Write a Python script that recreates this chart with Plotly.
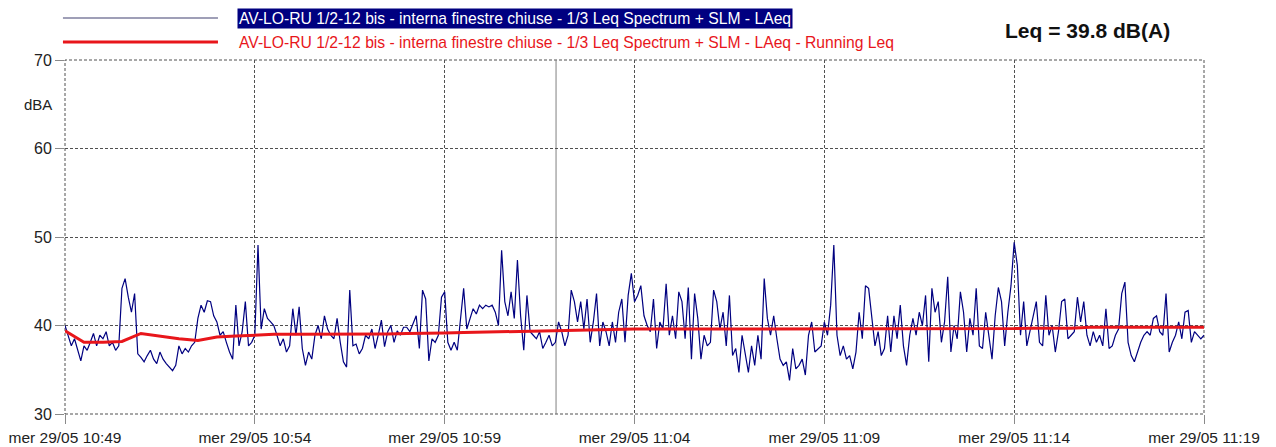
import pandas as pd
import plotly.graph_objects as go

# ---------------- data ----------------
start_time = "2024-05-29 10:49:00"
end_time = "2024-05-29 11:19:00"
cursor_time = "2024-05-29 11:01:56"
sample_step = "5s"        # LAeq sampling step
running_step = "30s"      # running Leq sampling step

# LAeq (dBA) sampled every 5 s, one row per minute
laeq = [
    40.0, 38.9, 37.7, 38.5, 37.2, 36.0, 37.7, 37.2, 38.1, 39.1, 37.7, 38.9,
    38.5, 39.3, 37.7, 38.1, 37.2, 37.7, 44.2, 45.3, 43.2, 41.5, 43.6, 36.8,
    36.4, 35.9, 36.6, 37.2, 36.2, 35.7, 37.0, 36.2, 35.7, 35.3, 34.9, 35.5,
    37.7, 36.8, 37.4, 37.0, 37.7, 38.1, 40.8, 42.3, 41.5, 42.8, 42.7, 41.1,
    40.4, 38.9, 39.3, 38.1, 37.0, 36.2, 42.3, 37.7, 39.3, 42.7, 37.7, 38.1,
    38.9, 49.1, 39.6, 41.9, 40.8, 40.4, 40.0, 38.9, 37.7, 38.5, 37.0, 37.7,
    41.9, 38.9, 42.1, 37.4, 35.5, 37.0, 36.2, 38.9, 40.0, 38.5, 41.1, 39.6,
    38.9, 38.5, 40.8, 38.1, 35.9, 35.3, 44.0, 37.7, 37.9, 36.8, 37.4, 38.9,
    38.5, 39.6, 37.4, 38.9, 40.6, 37.6, 39.3, 40.0, 38.1, 39.4, 38.9, 39.8,
    39.8, 39.3, 40.2, 41.1, 37.4, 44.0, 43.0, 36.0, 38.5, 38.1, 38.9, 43.2,
    43.8, 38.1, 37.2, 38.1, 37.2, 40.8, 44.2, 39.6, 40.8, 41.9, 41.3, 42.3,
    41.9, 42.3, 42.1, 42.3, 41.5, 40.0, 48.5, 42.7, 41.1, 43.8, 40.8, 47.4,
    41.1, 37.2, 43.4, 39.3, 38.9, 38.5, 39.3, 37.4, 38.1, 38.9, 37.7, 38.1,
    40.4, 39.3, 37.7, 38.9, 44.0, 42.7, 40.4, 42.7, 39.6, 43.0, 38.1, 40.4,
    43.6, 37.7, 40.4, 39.3, 37.7, 40.4, 38.1, 41.5, 43.0, 38.1, 43.4, 45.9,
    42.7, 43.4, 44.5, 41.1, 40.0, 39.3, 43.0, 37.4, 40.4, 39.6, 44.7, 38.9,
    41.1, 38.5, 43.8, 42.7, 38.5, 44.3, 36.2, 43.6, 40.8, 36.2, 38.9, 37.7,
    38.1, 44.0, 42.7, 39.6, 41.5, 37.7, 43.4, 36.6, 37.4, 34.7, 38.9, 37.0,
    34.7, 37.7, 35.5, 38.9, 36.2, 45.3, 40.8, 38.9, 41.1, 38.5, 36.2, 35.5,
    35.9, 33.8, 37.4, 35.1, 35.5, 36.2, 34.4, 38.9, 40.4, 37.0, 37.4, 37.7,
    40.4, 38.9, 42.3, 49.1, 38.9, 36.6, 37.7, 36.2, 36.6, 35.1, 37.0, 41.5,
    38.5, 44.5, 44.2, 40.8, 37.7, 39.3, 36.6, 37.4, 41.1, 37.0, 41.1, 38.5,
    42.3, 37.7, 35.5, 38.9, 40.8, 38.9, 41.5, 40.0, 43.4, 35.9, 44.2, 41.5,
    42.7, 38.1, 40.4, 45.5, 37.0, 40.0, 38.5, 43.8, 41.5, 37.0, 40.8, 38.9,
    44.2, 37.7, 37.4, 41.5, 38.9, 36.2, 41.1, 44.3, 42.7, 37.7, 41.5, 44.5,
    49.4, 46.8, 38.9, 42.7, 37.7, 39.3, 40.8, 42.7, 38.1, 37.7, 43.4, 38.9,
    40.0, 37.0, 39.3, 42.7, 43.0, 38.5, 38.9, 39.3, 43.2, 40.4, 42.7, 38.9,
    37.7, 39.3, 38.1, 38.9, 37.7, 41.9, 37.4, 37.7, 38.9, 39.6, 43.6, 44.9,
    38.1, 36.6, 35.9, 37.0, 38.1, 38.9, 39.3, 38.9, 40.8, 41.1, 39.3, 38.9,
    43.6, 37.0, 38.1, 38.9, 40.4, 38.5, 41.5, 41.7, 38.1, 39.3, 38.9, 38.5,
    38.9,
]

# Running Leq (dBA) every 30 s
running_leq = [
    39.4, 38.1, 38.1, 38.2, 39.1, 38.8, 38.5, 38.3, 38.7, 38.8,
    38.9, 39.0, 39.0, 39.0, 39.0, 39.0, 39.0, 39.05, 39.1, 39.1,
    39.15, 39.2, 39.25, 39.3, 39.35, 39.4, 39.45, 39.5, 39.5, 39.55,
    39.6, 39.6, 39.6, 39.6, 39.6, 39.6, 39.6, 39.6, 39.6, 39.6,
    39.6, 39.6, 39.6, 39.6, 39.6, 39.65, 39.65, 39.65, 39.65, 39.65,
    39.65, 39.7, 39.7, 39.7, 39.8, 39.8, 39.8, 39.8, 39.8, 39.8,
    39.8,
]

x_tickvals = ["2024-05-29 10:49", "2024-05-29 10:54", "2024-05-29 10:59",
              "2024-05-29 11:04", "2024-05-29 11:09", "2024-05-29 11:14",
              "2024-05-29 11:19"]
x_ticktext = ["mer 29/05 10:49", "mer 29/05 10:54", "mer 29/05 10:59",
              "mer 29/05 11:04", "mer 29/05 11:09", "mer 29/05 11:14",
              "mer 29/05 11:19"]
y_tickvals = [30, 40, 50, 60, 70]

series_name = "AV-LO-RU 1/2-12 bis - interna finestre chiuse - 1/3 Leq Spectrum + SLM - LAeq"
running_name = series_name + " - Running Leq"
leq_text = "Leq = 39.8 dB(A)"

# ---------------- figure ----------------
t_laeq = pd.date_range(start_time, periods=len(laeq), freq=sample_step)
t_run = pd.date_range(start_time, periods=len(running_leq), freq=running_step)

NAVY = "#000080"
RED = "#e8161b"
FONT = "Liberation Sans, Arial, sans-serif"
GRID = "#505050"
DASH = "3px,2px"

fig = go.Figure()
fig.add_trace(go.Scatter(x=t_laeq, y=laeq, mode="lines", name=series_name,
                         line=dict(color=NAVY, width=1.2)))
fig.add_trace(go.Scatter(x=t_run, y=running_leq, mode="lines", name=running_name,
                         line=dict(color=RED, width=3)))

grid = dict(showgrid=True, gridcolor=GRID, gridwidth=1, griddash=DASH,
            zeroline=False, showline=False, ticks="outside", ticklen=9,
            tickcolor="#8a8a8a", tickwidth=1, automargin=False)

fig.update_layout(
    width=1276, height=447,
    margin=dict(l=65, r=72, t=60, b=33),
    plot_bgcolor="white", paper_bgcolor="white",
    showlegend=False,
    font=dict(family=FONT, color="#222222"),
    xaxis=dict(type="date", range=[start_time, end_time], tickmode="array",
               tickvals=x_tickvals, ticktext=x_ticktext,
               tickfont=dict(size=15.5, color="#222222"), **grid),
    yaxis=dict(range=[30, 70], tickmode="array", tickvals=y_tickvals,
               tickfont=dict(size=16, color="#222222"), **grid),
)

# dashed frame (edge grid lines)
fig.add_shape(type="rect", xref="paper", yref="paper", x0=0, x1=1, y0=0, y1=1,
              line=dict(color=GRID, width=1, dash=DASH), layer="below")

# cursor line
fig.add_shape(type="line", xref="x", yref="paper", x0=cursor_time, x1=cursor_time,
              y0=0, y1=1, line=dict(color="#808080", width=1), layer="below")

# custom legend
fig.add_shape(type="line", xref="paper", yref="paper", x0=-0.0018, x1=0.1343,
              y0=1.1186, y1=1.1186, line=dict(color="#7f7f9f", width=1.5))
fig.add_shape(type="line", xref="paper", yref="paper", x0=-0.0018, x1=0.1343,
              y0=1.0508, y1=1.0508, line=dict(color=RED, width=3))
fig.add_annotation(xref="paper", yref="paper", x=0.1510, y=1.1186,
                   xanchor="left", yanchor="middle", showarrow=False,
                   text=series_name, bgcolor=NAVY, borderpad=1,
                   font=dict(family=FONT, size=15.7, color="white"))
fig.add_annotation(xref="paper", yref="paper", x=0.1510, y=1.0508,
                   xanchor="left", yanchor="middle", showarrow=False,
                   text=running_name, borderpad=1,
                   font=dict(family=FONT, size=15.7, color=RED))
fig.add_annotation(xref="paper", yref="paper", x=0.8977, y=1.0847,
                   xanchor="center", yanchor="middle", showarrow=False,
                   text="<b>" + leq_text + "</b>",
                   font=dict(family=FONT, size=21, color="#111111"))
fig.add_annotation(xref="paper", yref="paper", x=-0.0233, y=0.873,
                   xanchor="center", yanchor="middle", showarrow=False,
                   text="dBA", font=dict(family=FONT, size=15, color="#222222"))

fig.write_html(
    "out.html",
    config={"displayModeBar": False},
    post_script="document.body.style.margin='0px';document.body.style.overflow='hidden';",
)
